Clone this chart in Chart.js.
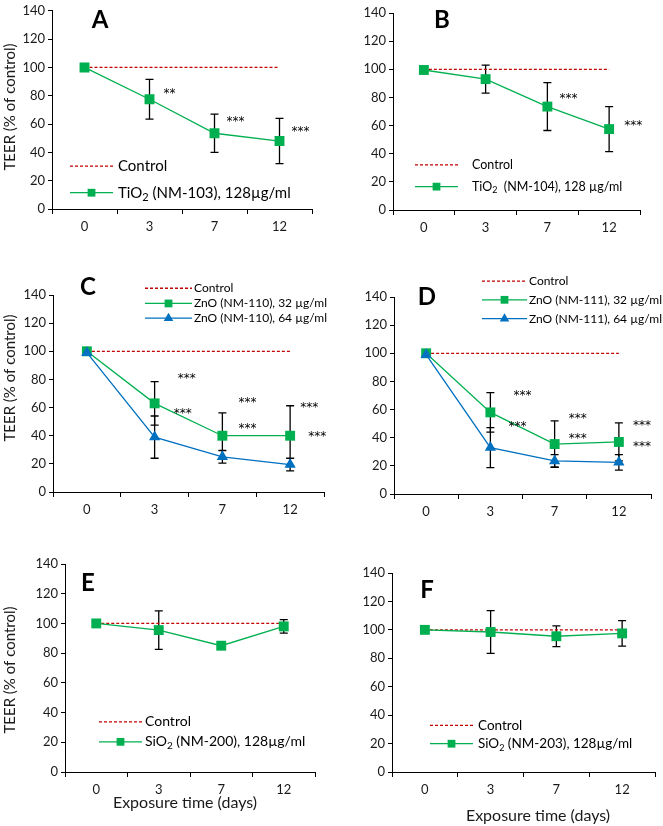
<!DOCTYPE html>
<html>
<head>
<meta charset="utf-8">
<script src="https://cdn.jsdelivr.net/npm/chart.js@4.4.0/dist/chart.umd.min.js"></script>
<style>
  html, body { margin: 0; padding: 0; background: #fff; }
  #fig { position: relative; width: 663px; height: 826px; overflow: hidden; }
  #fig canvas { position: absolute; }
</style>
</head>
<body>
<div id="fig"></div>
<script>
// x categories (exposure days)
const days = ["0", "3", "7", "12"];
const control = [100, 100, 100, 100];

// TEER, % of control (mean, sd, significance)
const tio2Nm103 = [100, 77.5, 53.5, 48];
const tio2Nm103Sd = [0, 14, 13.5, 16];
const tio2Nm103Sig = ["", "**", "***", "***"];

const tio2Nm104 = [99.5, 93, 73.5, 57.5];
const tio2Nm104Sd = [0, 10, 17, 16];
const tio2Nm104Sig = ["", "", "***", "***"];

const znoNm110Low = [100, 63, 40, 40];
const znoNm110LowSd = [0, 15.5, 16.3, 21.3];
const znoNm110LowSig = ["", "***", "***", "***"];
const znoNm110High = [99, 39, 25, 19.5];
const znoNm110HighSd = [0, 15, 4.5, 4.5];
const znoNm110HighSig = ["", "***", "***", "***"];

const znoNm111Low = [100, 58, 35.5, 37];
const znoNm111LowSd = [0, 14, 16.5, 13.5];
const znoNm111LowSig = ["", "***", "***", "***"];
const znoNm111High = [99, 33, 23.5, 22.5];
const znoNm111HighSd = [0, 14.2, 4.5, 5.5];
const znoNm111HighSig = ["", "***", "***", "***"];

const sio2Nm200 = [100, 95.5, 85, 98];
const sio2Nm200Sd = [0, 13, 0, 4.5];

const sio2Nm203 = [100, 98.5, 95.5, 97.5];
const sio2Nm203Sd = [0, 15, 7.3, 9];

const FONT = "Lato, 'Open Sans', sans-serif";
const STAR_FONT = "'DejaVu Sans', sans-serif";
const GREEN = "#00B050";
const BLUE = "#0070C0";
const RED = "#C00000";
const INK = "#1a1a1a";

const panels = [
  {
    letter: "A", cell: [0, 0, 331, 268], box: [52, 6, 312, 209],
    letterAt: [100, 20], yTitleAt: [10, 107],
    legend: { x0: 18, x1: 61, tx: 66, controlY: 30.3, size: 15 },
    series: [
      { data: tio2Nm103, sd: tio2Nm103Sd, sig: tio2Nm103Sig, color: GREEN, style: "rect",
        label: [["TiO"], ["2", 1], [" (NM-103), 128µg/ml"]], legendY: 11.5,
        sigAt: [null, [20, 83], [21, 63], [21, 55.6]] }
    ]
  },
  {
    letter: "B", cell: [331, 0, 663, 268], box: [393, 13, 640, 210],
    letterAt: [111, 20],
    legend: { x0: 22, x1: 65, tx: 79, controlY: 32, size: 12.5 },
    series: [
      { data: tio2Nm104, sd: tio2Nm104Sd, sig: tio2Nm104Sig, color: GREEN, style: "rect",
        label: [["TiO"], ["2", 1], ["  (NM-104), 128 µg/ml"]], legendY: 16.6,
        sigAt: [null, null, [21, 80.7], [24, 61.2]] }
    ]
  },
  {
    letter: "C", cell: [0, 268, 331, 540], box: [53, 295, 325, 492],
    letterAt: [88, 19], yTitleAt: [10, 110],
    legend: { x0: 92, x1: 139, tx: 141, controlY: 144.8, size: 12 },
    series: [
      { data: znoNm110High, sd: znoNm110HighSd, sig: znoNm110HighSig, color: BLUE, style: "triangle",
        label: [["ZnO (NM-110), 64 µg/ml"]], legendY: 123.5,
        sigAt: [null, [28, 57], [25, 46.3], [27, 40.3]] },
      { data: znoNm110Low, sd: znoNm110LowSd, sig: znoNm110LowSig, color: GREEN, style: "rect",
        label: [["ZnO (NM-110), 32 µg/ml"]], legendY: 134,
        sigAt: [null, [32, 82], [25, 64.8], [19, 61]] }
    ]
  },
  {
    letter: "D", cell: [331, 268, 663, 540], box: [394, 297, 651, 494],
    letterAt: [96, 29],
    legend: { x0: 88, x1: 133, tx: 135, controlY: 151.3, size: 12 },
    series: [
      { data: znoNm111High, sd: znoNm111HighSd, sig: znoNm111HighSig, color: BLUE, style: "triangle",
        label: [["ZnO (NM-111), 64 µg/ml"]], legendY: 124.6,
        sigAt: [null, [27, 49], [23, 40.7], [23, 34.8]] },
      { data: znoNm111Low, sd: znoNm111LowSd, sig: znoNm111LowSig, color: GREEN, style: "rect",
        label: [["ZnO (NM-111), 32 µg/ml"]], legendY: 138,
        sigAt: [null, [32, 71.4], [23, 54.9], [23, 50.1]] }
    ]
  },
  {
    letter: "E", cell: [0, 540, 331, 826], box: [65, 564, 315, 772],
    letterAt: [88, 43], yTitleAt: [10, 130], xTitleAt: [185, 263],
    legend: { x0: 34, x1: 77, tx: 80, controlY: 33.8, size: 14 },
    series: [
      { data: sio2Nm200, sd: sio2Nm200Sd, color: GREEN, style: "rect",
        label: [["SiO"], ["2", 1], [" (NM-200), 128µg/ml"]], legendY: 20.3 }
    ]
  },
  {
    letter: "F", cell: [331, 540, 663, 826], box: [392, 573, 655, 772],
    letterAt: [96, 50], xTitleAt: [207, 276],
    legend: { x0: 38, x1: 81, tx: 86, controlY: 32.8, size: 13.5 },
    series: [
      { data: sio2Nm203, sd: sio2Nm203Sd, color: GREEN, style: "rect",
        label: [["SiO"], ["2", 1], [" (NM-203), 128µg/ml"]], legendY: 19.9 }
    ]
  }
];

function richText(ctx, parts, x, y, size) {
  let cx = x;
  parts.forEach(([t, sub]) => {
    ctx.font = sub ? `${Math.round(size * 0.7)}px ${FONT}` : `${size}px ${FONT}`;
    ctx.fillText(t, cx, sub ? y + size * 0.3 : y);
    cx += ctx.measureText(t).width;
  });
}

const errorBars = {
  id: "errorBars",
  beforeDatasetsDraw(chart, args, opts) {
    const { ctx, scales: { x, y } } = chart;
    ctx.save();
    ctx.strokeStyle = "#000";
    ctx.lineWidth = 1.3;
    opts.series.forEach((s) => {
      s.data.forEach((v, i) => {
        const e = s.sd[i];
        if (!e) return;
        const px = x.getPixelForValue(i);
        const top = y.getPixelForValue(v + e);
        const bot = y.getPixelForValue(v - e);
        ctx.beginPath();
        ctx.moveTo(px, top); ctx.lineTo(px, bot);
        ctx.moveTo(px - 4, top); ctx.lineTo(px + 4, top);
        ctx.moveTo(px - 4, bot); ctx.lineTo(px + 4, bot);
        ctx.stroke();
      });
    });
    ctx.restore();
  }
};

const panelText = {
  id: "panelText",
  afterDraw(chart, args, opts) {
    const { ctx, chartArea, scales: { x, y } } = chart;
    const p = opts.panel;
    ctx.save();
    ctx.fillStyle = "#000";
    ctx.textBaseline = "middle";

    // panel letter
    ctx.font = `bold 24px ${FONT}`;
    ctx.textAlign = "center";
    ctx.fillText(p.letter, p.letterAt[0], p.letterAt[1]);

    // axis titles
    ctx.fillStyle = INK;
    if (p.yTitleAt) {
      ctx.font = `15px ${FONT}`;
      ctx.save();
      ctx.translate(p.yTitleAt[0], p.yTitleAt[1]);
      ctx.rotate(-Math.PI / 2);
      ctx.fillText("TEER (% of control)", 0, 0);
      ctx.restore();
    }
    if (p.xTitleAt) {
      ctx.font = `16px ${FONT}`;
      ctx.fillText("Exposure time (days)", p.xTitleAt[0], p.xTitleAt[1]);
    }

    // significance marks
    ctx.font = `12px ${STAR_FONT}`;
    ctx.fillStyle = "#000";
    p.series.forEach((s) => {
      if (!s.sigAt) return;
      s.sigAt.forEach((pos, i) => {
        if (!pos || !s.sig[i]) return;
        ctx.fillText(s.sig[i], x.getPixelForValue(i) + pos[0], y.getPixelForValue(pos[1]) + 2);
      });
    });

    // legend
    const L = p.legend;
    const lx0 = chartArea.left + L.x0, lx1 = chartArea.left + L.x1, tx = chartArea.left + L.tx;
    ctx.textAlign = "left";
    let cy = y.getPixelForValue(L.controlY);
    ctx.strokeStyle = RED;
    ctx.lineWidth = 1.3;
    ctx.setLineDash([3, 2]);
    ctx.beginPath(); ctx.moveTo(lx0, cy); ctx.lineTo(lx1, cy); ctx.stroke();
    ctx.setLineDash([]);
    ctx.fillStyle = "#000";
    ctx.font = `${L.size}px ${FONT}`;
    ctx.fillText("Control", tx, cy);
    p.series.forEach((s) => {
      cy = y.getPixelForValue(s.legendY);
      ctx.strokeStyle = s.color;
      ctx.beginPath(); ctx.moveTo(lx0, cy); ctx.lineTo(lx1, cy); ctx.stroke();
      ctx.fillStyle = s.color;
      Chart.helpers.drawPoint(ctx, { pointStyle: s.style, radius: 5.5, borderWidth: 0 }, (lx0 + lx1) / 2, cy);
      ctx.fillStyle = "#000";
      richText(ctx, s.label, tx, cy, L.size);
    });
    ctx.restore();
  }
};

const fig = document.getElementById("fig");

panels.forEach((p) => {
  const [cl, ct, cr, cb] = p.cell;
  const [bl, bt, br, bb] = p.box;
  const canvas = document.createElement("canvas");
  canvas.width = cr - cl;
  canvas.height = cb - ct;
  canvas.style.left = cl + "px";
  canvas.style.top = ct + "px";
  fig.appendChild(canvas);

  const datasets = p.series.map((s) => ({
    data: s.data,
    borderColor: s.color,
    backgroundColor: s.color,
    borderWidth: 1.3,
    pointStyle: s.style,
    pointRadius: s.style === "rect" ? 7 : 6.5,
    pointBackgroundColor: s.color,
    pointBorderColor: s.color,
    pointBorderWidth: 0,
    tension: 0
  }));
  datasets.push({
    data: control,
    borderColor: RED,
    borderWidth: 1.3,
    borderDash: [3, 2],
    pointRadius: 0,
    tension: 0
  });

  new Chart(canvas, {
    type: "line",
    data: { labels: days, datasets },
    options: {
      responsive: false,
      animation: false,
      events: [],
      layout: { padding: { top: bt - ct, right: cr - br, left: 0, bottom: 0 } },
      scales: {
        x: {
          type: "category",
          offset: true,
          grid: { offset: true, drawOnChartArea: false, tickLength: 5, color: "#000" },
          border: { color: "#000", width: 1 },
          ticks: { color: INK, font: { family: FONT, size: 13 }, padding: 5, maxRotation: 0 },
          afterFit: (s) => { s.height = cb - bb; }
        },
        y: {
          min: 0,
          max: 140,
          ticks: { stepSize: 20, color: INK, font: { family: FONT, size: 13 }, padding: 3 },
          grid: { drawOnChartArea: false, tickLength: 4, color: "#000" },
          border: { color: "#000", width: 1 },
          afterFit: (s) => { s.width = bl - cl; }
        }
      },
      plugins: {
        legend: { display: false },
        tooltip: { enabled: false },
        errorBars: { series: p.series },
        panelText: { panel: p }
      }
    },
    plugins: [errorBars, panelText]
  });
});
</script>
</body>
</html>
